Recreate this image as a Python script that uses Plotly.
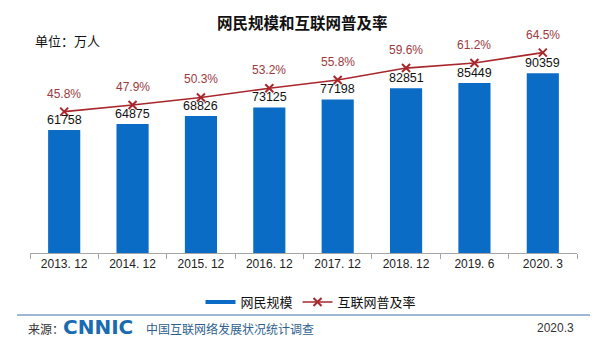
import plotly.graph_objects as go

categories = ["2013. 12", "2014. 12", "2015. 12", "2016. 12", "2017. 12", "2018. 12", "2019. 6", "2020. 3"]
users = [61758, 64875, 68826, 73125, 77198, 82851, 85449, 90359]
penetration = [45.8, 47.9, 50.3, 53.2, 55.8, 59.6, 61.2, 64.5]

BLUE = "#0b6cc6"
RED = "#a8272c"
NUM_FONT = "Liberation Sans, Arial, Noto Sans CJK SC"
CJK_FONT = "Noto Sans CJK SC, Liberation Sans"

# plot area in pixels
L, R, T, B = 30, 577, 40, 253
W, H = R - L, B - T


def px(x):
    return (x - L) / W


def py(y):
    return (B - y) / H


fig = go.Figure()

fig.add_trace(go.Bar(
    x=categories, y=users, name="网民规模",
    marker=dict(color=BLUE, line=dict(width=0)),
    showlegend=False, yaxis="y",
))
# legend proxy for bar series (shown as a thick line like the reference)
fig.add_trace(go.Scatter(
    x=[None], y=[None], mode="lines", name="网民规模",
    line=dict(color=BLUE, width=4), yaxis="y",
))
fig.add_trace(go.Scatter(
    x=categories, y=penetration, name="互联网普及率", yaxis="y2",
    mode="lines+markers",
    line=dict(color=RED, width=1.6),
    marker=dict(symbol="x-thin", size=8, color=RED, line=dict(color=RED, width=2)),
    cliponaxis=False,
))

annotations = []
for c, v in zip(categories, users):
    annotations.append(dict(
        x=c, y=v, xref="x", yref="y", text=str(v), showarrow=False,
        yanchor="middle", yshift=10,
        font=dict(family=NUM_FONT, size=12.5, color="#111111"),
    ))
for c, p in zip(categories, penetration):
    annotations.append(dict(
        x=c, y=p, xref="x", yref="y2", text=f"{p:.1f}%", showarrow=False,
        yanchor="middle", yshift=18,
        font=dict(family=NUM_FONT, size=12, color="#9c3a3e"),
    ))

annotations += [
    dict(x=px(302), y=py(22), xref="paper", yref="paper", text="<b>网民规模和互联网普及率</b>",
         showarrow=False, xanchor="center", yanchor="middle",
         font=dict(family=CJK_FONT, size=15.5, color="#111111")),
    dict(x=px(33), y=py(40), xref="paper", yref="paper", text="单位：万人",
         showarrow=False, xanchor="left", yanchor="middle",
         font=dict(family=CJK_FONT, size=13, color="#111111")),
    dict(x=px(26), y=py(328), xref="paper", yref="paper", text="来源：",
         showarrow=False, xanchor="left", yanchor="middle",
         font=dict(family=CJK_FONT, size=12, color="#333333")),
    dict(x=px(61), y=py(327), xref="paper", yref="paper", text="<b>CNNIC</b>",
         showarrow=False, xanchor="left", yanchor="middle",
         font=dict(family="DejaVu Sans", size=20, color="#1b6bb0")),
    dict(x=px(144), y=py(328), xref="paper", yref="paper", text="中国互联网络发展状况统计调查",
         showarrow=False, xanchor="left", yanchor="middle",
         font=dict(family=CJK_FONT, size=12, color="#2f5f8f")),
    dict(x=px(576), y=py(328), xref="paper", yref="paper", text="2020.3",
         showarrow=False, xanchor="right", yanchor="middle",
         font=dict(family=NUM_FONT, size=12, color="#333333")),
]

fig.update_layout(
    width=600, height=350,
    margin=dict(l=L, r=600 - R, t=T, b=350 - B, pad=0),
    paper_bgcolor="white", plot_bgcolor="white",
    bargap=0.53,
    xaxis=dict(
        type="category", showline=True, linecolor="#a6a6a6", linewidth=1,
        ticks="outside", tickson="boundaries", ticklen=5, tickcolor="#a6a6a6",
        tickfont=dict(family=NUM_FONT, size=12, color="#222222"),
        showgrid=False, zeroline=False,
    ),
    yaxis=dict(range=[0, H / 0.00199], visible=False, showgrid=False, zeroline=False),
    yaxis2=dict(range=[1.0, 68.5], overlaying="y", visible=False, showgrid=False, zeroline=False),
    legend=dict(
        orientation="h", x=px(311), y=py(302), xanchor="center", yanchor="middle",
        font=dict(family=CJK_FONT, size=13, color="#111111"),
        bgcolor="rgba(0,0,0,0)", itemwidth=30, tracegroupgap=0,
    ),
    annotations=annotations,
    shapes=[dict(type="line", xref="paper", yref="paper",
                 x0=px(17), x1=px(590), y0=py(315), y1=py(315),
                 line=dict(color="#9db8d6", width=2))],
    showlegend=True,
)

fig.write_html("out.html")
